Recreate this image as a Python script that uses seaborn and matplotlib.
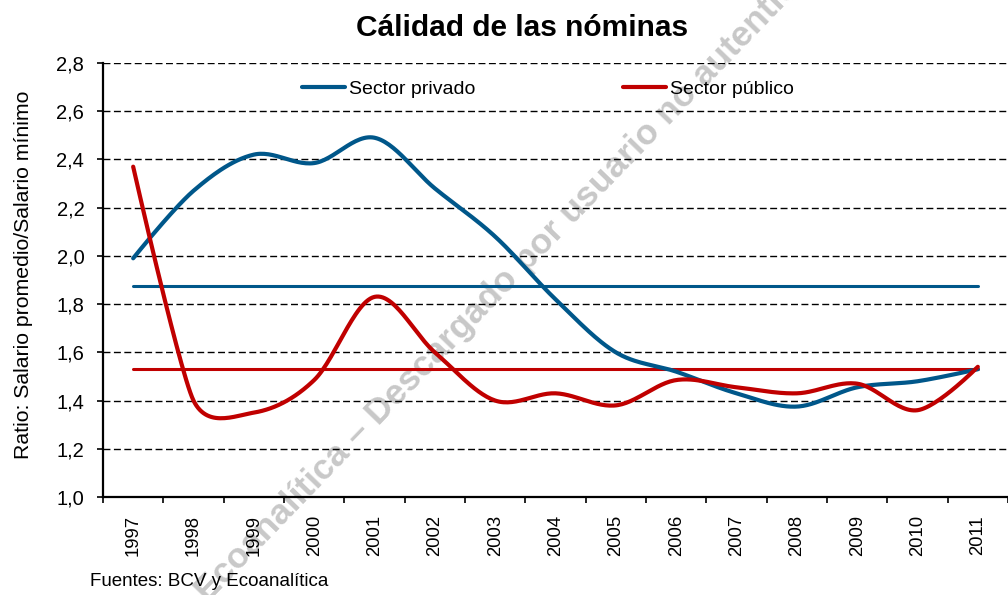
import numpy as np
import pandas as pd
import seaborn as sns
import matplotlib
matplotlib.use("Agg")
import matplotlib.pyplot as plt

# Values
years = ["1997", "1998", "1999", "2000", "2001", "2002", "2003", "2004",
         "2005", "2006", "2007", "2008", "2009", "2010", "2011"]
privado = [1.99, 2.27, 2.42, 2.385, 2.49, 2.28, 2.08, 1.82,
           1.60, 1.52, 1.43, 1.375, 1.455, 1.48, 1.53]
publico = [2.37, 1.40, 1.35, 1.485, 1.83, 1.60, 1.40, 1.43,
           1.38, 1.485, 1.455, 1.43, 1.47, 1.36, 1.54]
promedio_privado = 1.875
promedio_publico = 1.53

yticks = [1.0, 1.2, 1.4, 1.6, 1.8, 2.0, 2.2, 2.4, 2.6, 2.8]
ytick_labels = ["1,0", "1,2", "1,4", "1,6", "1,8", "2,0", "2,2", "2,4", "2,6", "2,8"]

azul = "#00578A"
rojo = "#C00000"

# pixel size of one category / one y unit, used only for the smoothing shape
PX_X, PX_Y = 60.6, 241.1


# Excel-like smoothed line: Bezier, tangent (p[i+1]-p[i-1])/6 capped at half the neighbour segments
def smooth(y, n=30):
    x = np.arange(len(y), dtype=float)
    pts = np.column_stack([x * PX_X, np.asarray(y, dtype=float) * PX_Y])
    m = len(pts)
    tang = []
    for i in range(m):
        a = pts[max(i - 1, 0)]
        b = pts[min(i + 1, m - 1)]
        d02 = np.linalg.norm(b - a)
        d01 = np.linalg.norm(pts[i] - a)
        d12 = np.linalg.norm(b - pts[i])
        off = min(d02 / 6, d01 / 2, d12 / 2)
        tang.append((b - a) / d02 * off)
    t = np.linspace(0, 1, n)[:, None]
    out = []
    for i in range(m - 1):
        p0, p3 = pts[i], pts[i + 1]
        p1 = p0 + tang[i]
        p2 = p3 - tang[i + 1]
        seg = ((1 - t) ** 3) * p0 + 3 * ((1 - t) ** 2) * t * p1 + 3 * (1 - t) * t ** 2 * p2 + t ** 3 * p3
        out.append(seg if i == 0 else seg[1:])
    out = np.vstack(out)
    return pd.DataFrame({"x": out[:, 0] / PX_X, "y": out[:, 1] / PX_Y})


sns.set_style("white")
plt.rcParams["font.family"] = ["Liberation Sans", "DejaVu Sans"]
plt.rcParams["text.color"] = "black"
plt.rcParams["axes.labelcolor"] = "black"
plt.rcParams["xtick.color"] = "black"
plt.rcParams["ytick.color"] = "black"

fig = plt.figure(figsize=(10.08, 5.95), dpi=100)
ax = fig.add_axes([103 / 1008, 1 - 497 / 595, 905 / 1008, 434 / 595])
ax.patch.set_alpha(0)
ax.set_zorder(2)

# watermark behind everything
fig.text(208 / 1008, -8 / 595, "Ecoanalítica – Descargado por usuario no autenticado",
         rotation=46, rotation_mode="anchor", ha="left", va="baseline",
         fontsize=25.5, fontweight="bold", color="#c8c8c8", zorder=0)

# grid
for v in yticks[1:]:
    ax.axhline(v, color="black", lw=1.0, ls=(0, (5, 2.5)), zorder=1)

idx = np.arange(len(years))
ax.plot([idx[0], idx[-1]], [promedio_privado] * 2, color=azul, lw=2.2, zorder=3)
ax.plot([idx[0], idx[-1]], [promedio_publico] * 2, color=rojo, lw=2.2, zorder=3)

sp = smooth(privado)
pu = smooth(publico)
sns.lineplot(data=sp, x="x", y="y", ax=ax, color=azul, lw=3, sort=False,
             estimator=None, label="Sector privado", zorder=4)
sns.lineplot(data=pu, x="x", y="y", ax=ax, color=rojo, lw=3, sort=False,
             estimator=None, label="Sector público", zorder=5)

ax.set_xlim(-0.5, 14.43)
ax.set_ylim(1.0, 2.8)

ax.set_yticks(yticks)
ax.set_yticklabels(ytick_labels, fontsize=14.5)
ax.tick_params(axis="y", direction="out", length=4.5, width=1.2, pad=9, left=True)

ax.set_xticks(np.arange(-0.5, 15, 1.0))
ax.set_xticklabels([])
ax.set_xticks(idx, minor=True)
ax.set_xticklabels(years, minor=True, rotation=90, fontsize=13.3)
ax.tick_params(axis="x", which="major", direction="out", length=4.5, width=1.2, bottom=True)
ax.tick_params(axis="x", which="minor", length=0, pad=13)

for s in ["top", "right"]:
    ax.spines[s].set_visible(False)
for s in ["left", "bottom"]:
    ax.spines[s].set_color("black")
    ax.spines[s].set_linewidth(1.6)

ax.set_xlabel("")
ax.set_ylabel("Ratio: Salario promedio/Salario mínimo", fontsize=15.3)
ax.yaxis.set_label_coords(-(103 - 33) / 905, 0.5 + 5 / 434)

ax.legend(loc="center", bbox_to_anchor=(548 / 1008, 1 - 89 / 595),
          bbox_transform=fig.transFigure, ncol=2, frameon=False, fontsize=14,
          handlelength=2.2, handletextpad=0.2, columnspacing=7.6)

fig.text(522 / 1008, 1 - 28 / 595, "Cálidad de las nóminas", ha="center", va="center",
         fontsize=21.5, fontweight="bold")
fig.text(90 / 1008, 1 - 582 / 595, "Fuentes: BCV y Ecoanalítica", ha="left", va="center",
         fontsize=13.5)

fig.savefig("out.png", dpi=100)
